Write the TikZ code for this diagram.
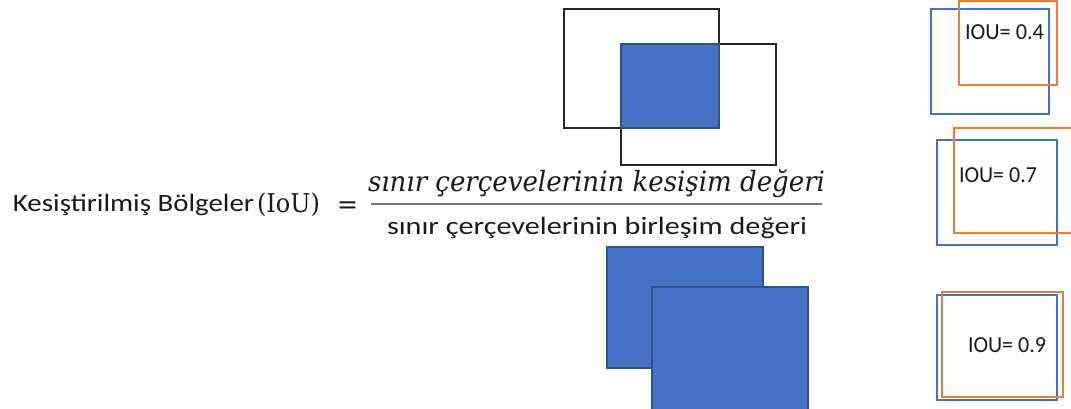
\documentclass[tikz,border=0pt]{standalone}
\usepackage{fontspec}
\usepackage{graphicx}
\newfontfamily\carlito{Carlito}
\newfontfamily\dserif{DejaVu Serif}
\newcommand\fitto[2]{\resizebox{#1}{\height}{#2}}
\definecolor{msblue}{HTML}{4472C4}
\definecolor{msdblue}{HTML}{2F528F}
\definecolor{msorange}{HTML}{ED7D31}
\definecolor{fracline}{RGB}{150,110,110}
\definecolor{boxblack}{HTML}{262626}
\definecolor{txtcol}{HTML}{1A1A1A}
\tikzset{
  txt/.style={anchor=base west, inner sep=0pt, outer sep=0pt, text=txtcol},
  blackbox/.style={draw=boxblack, line width=1.5bp},
  bluefill/.style={fill=msblue, draw=msdblue, line width=1.2bp},
  bluebox/.style={draw=msblue, line width=1.3bp},
  orangebox/.style={draw=msorange, line width=1.3bp},
}
\begin{document}
\begin{tikzpicture}[x=1bp,y=-1bp]
\useasboundingbox (0,0) rectangle (1071,408);
% top diagram
\draw[blackbox] (564,9) rectangle (719,128);
\draw[blackbox] (621,44) rectangle (776,165);
\draw[bluefill] (621,44) rectangle (719,128);
% bottom diagram
\draw[bluefill] (607,247) rectangle (763,368);
\draw[bluefill] (652,287) rectangle (808,412);
% formula
\node[txt] (lbl) at (13,211) {\fitto{241bp}{\carlito\fontsize{25}{25}\selectfont Kesiştirilmiş Bölgeler}};
\node[txt] (iou) at (257,212) {\fitto{63bp}{\dserif\fontsize{26}{26}\selectfont (IoU)}};
\node[txt] (eq) at (337,213) {\fitto{21bp}{\dserif\fontsize{26}{26}\selectfont =}};
\node[txt] (num) at (368,191) {\fitto{457bp}{\dserif\itshape\fontsize{28}{28}\selectfont sınır çerçevelerinin kesişim değeri}};
\coordinate (fl) at (371,204);
\coordinate (fr) at (822,204);
\draw[fracline, line width=1.3bp] (fl) -- (fr);
\node[txt] (den) at (387,234) {\fitto{420bp}{\carlito\fontsize{25}{25}\selectfont sınır çerçevelerinin birleşim değeri}};
% right boxes
\draw[bluebox] (931,9) rectangle (1049,114);
\draw[orangebox] (959,1) rectangle (1057,85);
\node[txt] (t4) at (965,39) {\fitto{79bp}{\carlito\fontsize{23}{23}\selectfont IOU= 0.4}};
\draw[bluebox] (937,140) rectangle (1057,245);
\draw[orangebox] (954,128) rectangle (1076,233);
\node[txt] (t7) at (959,182) {\fitto{78bp}{\carlito\fontsize{23}{23}\selectfont IOU= 0.7}};
\draw[bluebox] (937,295) rectangle (1057,400);
\draw[orangebox] (942,292) rectangle (1063,397);
\node[txt] (t9) at (968,352) {\fitto{78bp}{\carlito\fontsize{23}{23}\selectfont IOU= 0.9}};
\end{tikzpicture}
\end{document}
